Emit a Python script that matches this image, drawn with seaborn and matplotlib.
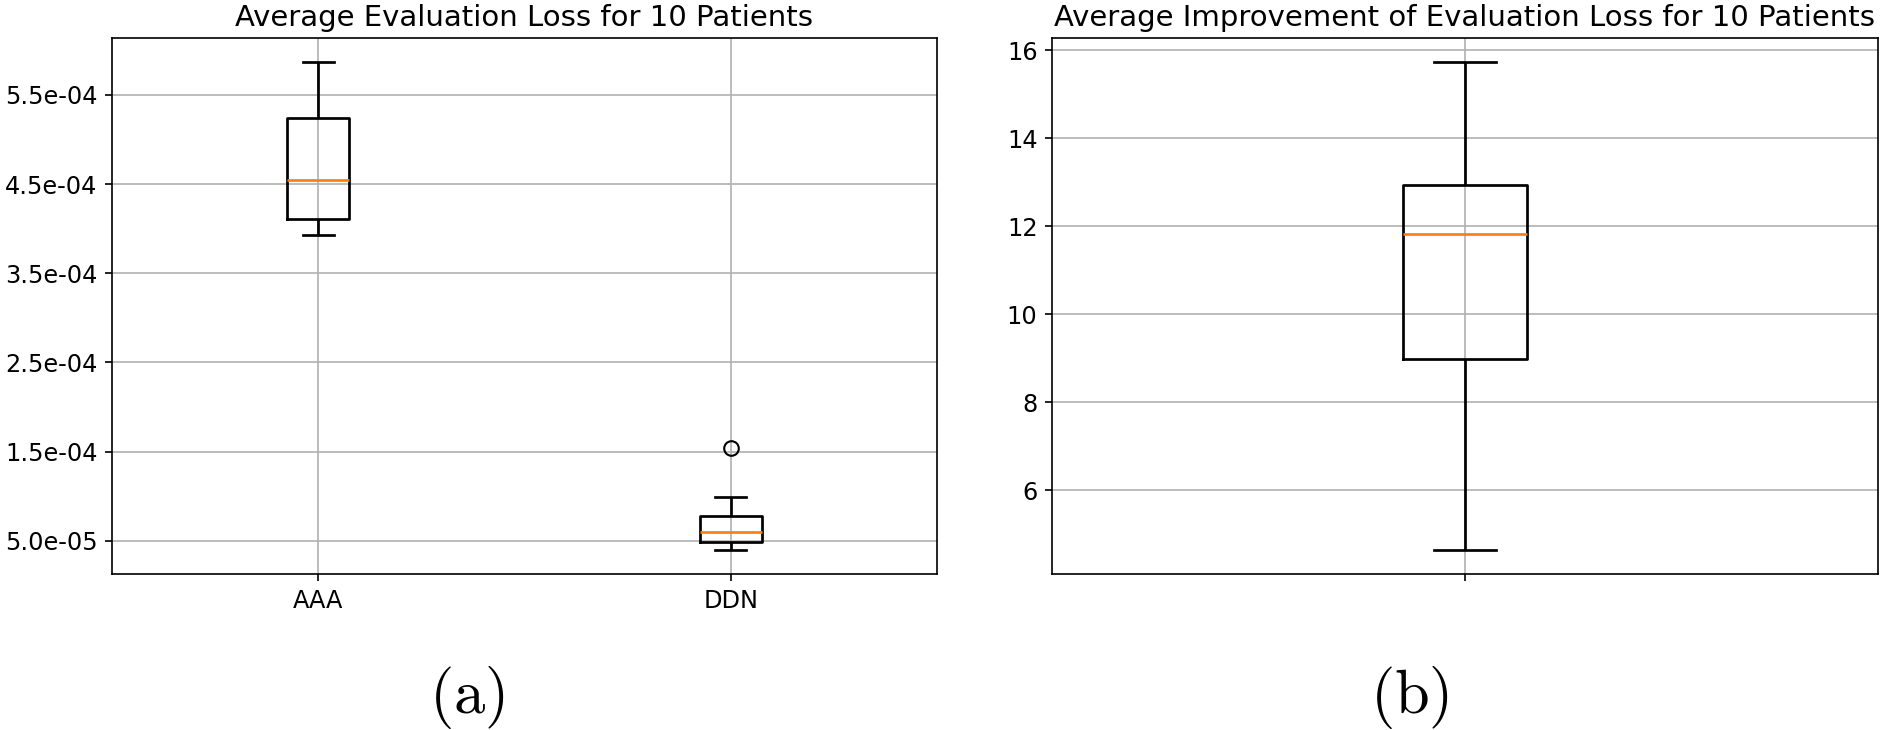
import seaborn as sns
import matplotlib.pyplot as plt
import pandas as pd
from matplotlib.ticker import FormatStrFormatter

# per-patient average evaluation loss (10 patients)
aaa_loss = [3.93e-4, 4.02e-4, 4.10e-4, 4.14e-4, 4.50e-4, 4.60e-4, 5.18e-4, 5.26e-4, 5.50e-4, 5.865e-4]
ddn_loss = [4.0e-5, 4.6e-5, 4.85e-5, 5.05e-5, 5.8e-5, 6.2e-5, 7.6e-5, 7.867e-5, 9.9e-5, 1.54e-4]
methods = ['AAA', 'DDN']

# per-patient improvement of evaluation loss
improvement = [4.65, 7.9, 8.7, 9.82, 11.5, 12.14, 12.6, 13.05, 14.2, 15.72]

loss_df = pd.DataFrame({
  'method': [methods[0]] * len(aaa_loss) + [methods[1]] * len(ddn_loss),
  'loss': aaa_loss + ddn_loss,
})
imp_df = pd.DataFrame({'group': [''] * len(improvement), 'improvement': improvement})

plt.rcParams['mathtext.fontset'] = 'cm'
plt.rcParams['xtick.labelsize'] = 11.5
plt.rcParams['ytick.labelsize'] = 11.5

box_kws = dict(
  width = 0.15,
  fill = False,
  color = 'black',
  linewidth = 1.3,
  whis = 1.5,
  medianprops = dict(color = '#ff7f0e'),
  flierprops = dict(marker = 'o', markersize = 7, markerfacecolor = 'none', markeredgecolor = 'black'),
)

fig = plt.figure(figsize = (12.56, 4.867), dpi = 150)
ax1 = fig.add_axes([0.0594, 0.2137, 0.4379, 0.7342])
ax2 = fig.add_axes([0.5584, 0.2137, 0.4384, 0.7342])

# (a) loss per method
sns.boxplot(data = loss_df, x = 'method', y = 'loss', ax = ax1, **box_kws)
ax1.set_yticks([5e-5, 1.5e-4, 2.5e-4, 3.5e-4, 4.5e-4, 5.5e-4])
ax1.yaxis.set_major_formatter(FormatStrFormatter('%.1e'))
ax1.set_title('Average Evaluation Loss for 10 Patients', fontsize = 14)

# (b) improvement
sns.boxplot(data = imp_df, x = 'group', y = 'improvement', ax = ax2, **box_kws)
ax2.set_title('Average Improvement of Evaluation Loss for 10 Patients', fontsize = 14)

for ax in (ax1, ax2):
  ax.set_xlabel('')
  ax.set_ylabel('')
  ax.grid(True, color = '#b0b0b0', linewidth = 0.8)
  ax.set_axisbelow(True)
  for spine in ax.spines.values():
    spine.set_visible(True)
    spine.set_color('black')

fig.text(0.248, 0.045, r'$\mathrm{(a)}$', fontsize = 30, ha = 'center', va = 'center')
fig.text(0.748, 0.045, r'$\mathrm{(b)}$', fontsize = 30, ha = 'center', va = 'center')

fig.savefig('out.png', dpi = 150)
